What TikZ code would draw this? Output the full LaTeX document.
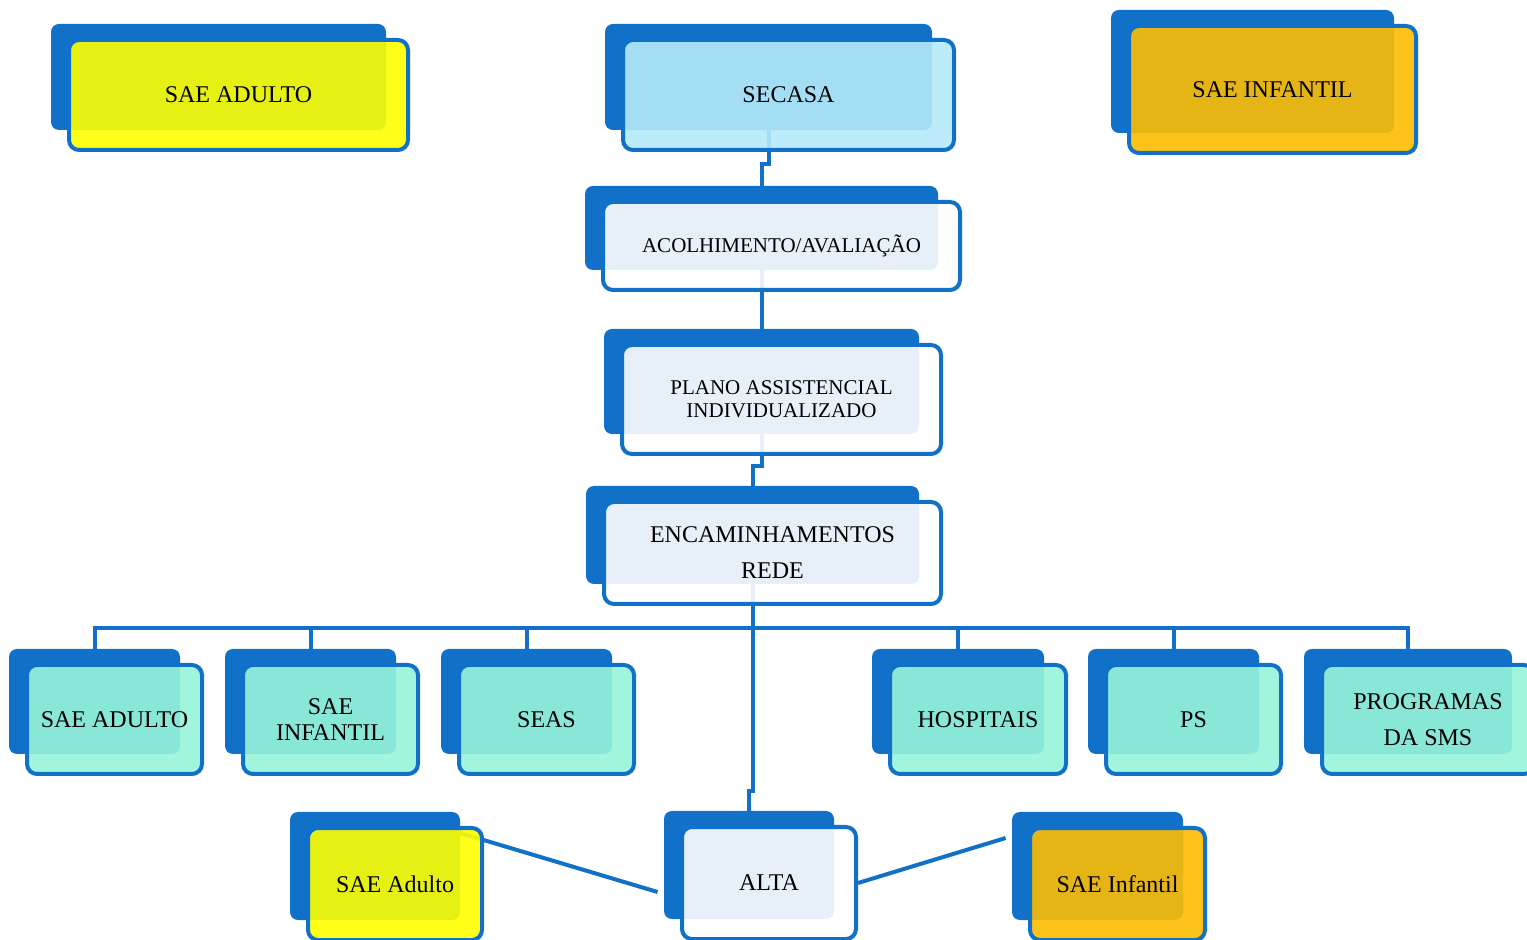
\documentclass[tikz,border=0pt]{standalone}
\usepackage{fontspec}
\setmainfont{Liberation Serif}
\usetikzlibrary{calc, positioning, backgrounds}
\definecolor{boxblue}{RGB}{17, 112, 200}
\definecolor{saeyellow}{RGB}{255, 255, 0}
\definecolor{saeorange}{RGB}{253, 189, 3}
\definecolor{secasablue}{RGB}{181, 235, 250}
\definecolor{redeteal}{RGB}{151, 245, 218}

\begin{document}
\begin{tikzpicture}[x=0.5pt, y=-0.5pt]
    \useasboundingbox (0, 0) rectangle (1527, 940);

    \tikzstyle{back} = [rectangle, rounded corners=4pt, fill=boxblue, inner sep=0pt];
    \tikzstyle{front} = [rectangle, rounded corners=5pt, draw=boxblue, line width=2pt,
        fill opacity=0.9, text opacity=1, align=center, inner sep=0pt,
        font=\fontsize{12}{14.4}\selectfont];
    \tikzstyle{fyel} = [fill=saeyellow];
    \tikzstyle{forg} = [fill=saeorange];
    \tikzstyle{fsky} = [fill=secasablue];
    \tikzstyle{fwht} = [fill=white];
    \tikzstyle{fwhs} = [fill=white, font=\fontsize{10.5}{12.6}\selectfont];
    \tikzstyle{ftea} = [fill=redeteal];
    \tikzstyle{link} = [draw=boxblue, line width=2pt];

    \coordinate (bus) at (0, 628);

    % top boxes and the main column
    \foreach \n/\x/\y/\w/\h/\c/\t in {
        sadulto/238.5/95/343/114/fyel/{SAE ADULTO},
        secasa/788.5/95/335/114/fsky/{SECASA},
        sinfantil/1272.5/89.5/291/131/forg/{SAE INFANTIL},
        acolh/781.5/246/361/92/fwhs/{ACOLHIMENTO/AVALIAÇÃO},
        plano/781.5/399.5/323/113/fwhs/{PLANO ASSISTENCIAL\\[-1pt]INDIVIDUALIZADO},
        enc/772.5/553/341/106/fwht/{ENCAMINHAMENTOS\\[3.6pt]REDE},
        b1/395/884/178/116/fyel/{SAE Adulto},
        alta/769/883/178/116/fwht/{ALTA},
        b2/1117.5/884/179/116/forg/{SAE Infantil}}{
        \node [back, minimum width={(\w-8)*0.5pt}, minimum height={(\h-8)*0.5pt}]
            (\n-b) at (\x-20, \y-18) { };
        \node [front, \c, minimum width={(\w-4)*0.5pt}, minimum height={(\h-4)*0.5pt}]
            (\n) at (\x, \y) {\t};
    }

    % the network row
    \foreach \n/\x/\w/\t in {
        r1/114.5/179/{SAE ADULTO},
        r2/330.5/179/{SAE\\[-1.4pt]INFANTIL},
        r3/546.5/179/{SEAS},
        r4/978/180/{HOSPITAIS},
        r5/1193.5/179/{PS},
        r6/1428/216/{PROGRAMAS\\[3.6pt]DA SMS}}{
        \node [back, minimum width={(\w-8)*0.5pt}, minimum height={105*0.5pt}]
            (\n-b) at (\x-20, 701.5) { };
        \node [front, ftea, minimum width={(\w-4)*0.5pt}, minimum height={109*0.5pt}]
            (\n) at (\x, 719.5) {\t};
    }

    \begin{pgfonlayer}{background}
        \fill [white] (0, 0) rectangle (1527, 940);

        \draw [link] (secasa-b.south) |- ($(acolh-b.north) + (0, -22)$) -- (acolh-b.north);
        \draw [link] (acolh-b.south) -- (plano-b.north);
        \draw [link] (plano-b.south) |- ($(enc-b.north) + (0, -20)$) -- (enc-b.north);
        \draw [link] (enc-b.south) |- ($(alta-b.north) + (0, -20)$) -- (alta-b.north);

        \foreach \i in {1, ..., 6}{
            \draw [link] (enc-b.south) |- (r\i-b.north |- bus) -- (r\i-b.north);
        }

        \draw [link] ($(b1-b.north east) + (-5, 20)$) -- ($(alta-b.west) + (-6, 27)$);
        \draw [link] (alta.east) -- ($(b2-b.west) + (-6, -28)$);
    \end{pgfonlayer}
\end{tikzpicture}
\end{document}
